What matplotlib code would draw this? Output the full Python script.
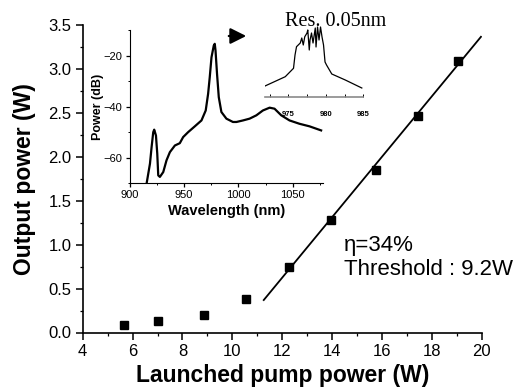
import matplotlib
matplotlib.use("Agg")
import matplotlib.pyplot as plt
from matplotlib.ticker import MultipleLocator

plt.rcParams['font.family'] = ['Liberation Sans', 'DejaVu Sans']

# ---- main data ----
pump_W = [5.67, 7.03, 8.86, 10.55, 12.26, 13.96, 15.76, 17.43, 19.05]
output_W = [0.085, 0.13, 0.20, 0.385, 0.75, 1.28, 1.85, 2.47, 3.09]
fit_x = [11.26, 19.97]
fit_y = [0.37, 3.37]

# ---- inset spectrum (dB) ----
wl_nm = [915.7, 918.8, 920.3, 921.8, 922.7, 924.3, 925.5, 926.4, 927.9, 931.0,
         934.0, 937.1, 941.7, 946.2, 949.3, 953.8, 960.0, 966.1, 970.0, 972.2,
         973.7, 975.3, 977.4, 978.3, 979.0, 980.4, 982.0, 984.4, 989.0, 995.0,
         998.2, 1004.2, 1010.3, 1016.5, 1022.5, 1028.7, 1033.2, 1039.4, 1047.0,
         1056.1, 1065.3, 1076.0]
power_dB = [-70.1, -62.3, -55.8, -50.0, -49.0, -51.3, -58.4, -66.9, -67.5, -65.6,
            -61.0, -57.8, -55.2, -54.3, -51.9, -50.0, -47.7, -45.4, -41.5, -35.0,
            -28.5, -20.7, -16.1, -15.4, -18.0, -27.2, -36.3, -42.1, -44.7, -46.0,
            -46.0, -45.4, -44.7, -43.4, -41.5, -40.4, -40.8, -43.4, -45.4,
            -46.7, -47.7, -49.3]

# ---- high-resolution sub-inset (arbitrary units) ----
hr_nm = [971.9, 974.6, 975.7, 975.9, 976.1, 976.6, 976.8, 977.0, 977.2, 977.5,
         977.6, 977.8, 977.9, 978.1, 978.3, 978.6, 978.7, 978.9, 979.1, 979.3,
         979.5, 979.7, 979.9, 980.1, 980.8, 982.6, 984.8]
hr_au = [10.7, 20.0, 28.4, 41.7, 50.0, 53.7, 58.7, 51.7, 60.0, 63.7,
         66.7, 46.7, 56.7, 63.7, 53.7, 68.7, 49.7, 69.7, 56.7, 69.7,
         59.7, 51.7, 34.7, 31.7, 22.7, 16.7, 8.7]

W, H = 524, 392
fig = plt.figure(figsize=(W / 100, H / 100), dpi=100)

def frac(x0, y0, x1, y1):
    return [x0 / W, 1 - y1 / H, (x1 - x0) / W, (y1 - y0) / H]

# main axes
ax = fig.add_axes(frac(82.7, 25.4, 481.7, 332.5))
ax.plot(pump_W, output_W, 's', color='black', ms=6.3)
ax.plot(fit_x, fit_y, '-', color='black', lw=1.3)
ax.set_xlim(4, 20)
ax.set_ylim(0, 3.5)
ax.xaxis.set_major_locator(MultipleLocator(2))
ax.xaxis.set_minor_locator(MultipleLocator(1))
ax.yaxis.set_major_locator(MultipleLocator(0.5))
ax.yaxis.set_minor_locator(MultipleLocator(0.25))
ax.yaxis.set_major_formatter(matplotlib.ticker.FormatStrFormatter('%.1f'))
for s in ['top', 'right']:
    ax.spines[s].set_visible(False)
for s in ['left', 'bottom']:
    ax.spines[s].set_linewidth(1.2)
ax.tick_params(which='major', direction='out', length=5, width=1.1, labelsize=12, pad=3)
ax.tick_params(which='minor', direction='out', length=2.5, width=0.9)
ax.set_xlabel('Launched pump power (W)', fontsize=16.5, fontweight='bold', labelpad=4)
ax.set_ylabel('Output power (W)', fontsize=16.5, fontweight='bold', labelpad=9)
ax.text(0.655, 0.245, 'η=34%\nThreshold : 9.2W', transform=ax.transAxes,
        fontsize=16, ha='left', va='center', linespacing=1.2)

# inset
ax2 = fig.add_axes(frac(129.5, 30, 323.3, 183.3))
ax2.plot(wl_nm, power_dB, '-', color='black', lw=1.6)
ax2.set_xlim(900, 1078)
ax2.set_ylim(-70, -10)
ax2.xaxis.set_major_locator(MultipleLocator(50))
ax2.xaxis.set_minor_locator(MultipleLocator(25))
ax2.yaxis.set_minor_locator(MultipleLocator(10))
ax2.set_yticks([-60, -40, -20])
for s in ['top', 'right']:
    ax2.spines[s].set_visible(False)
ax2.patch.set_alpha(0)
ax2.tick_params(which='major', direction='out', length=3, width=0.9, labelsize=8, pad=2)
ax2.tick_params(which='minor', direction='out', length=1.5, width=0.7)
ax2.set_xlabel('Wavelength (nm)', fontsize=10.5, fontweight='bold', labelpad=3)
ax2.set_ylabel('Power (dB)', fontsize=9, fontweight='bold', labelpad=0)

# high-resolution sub-inset
ax3 = fig.add_axes(frac(265, 24.7, 363.3, 96.7))
ax3.plot(hr_nm, hr_au, '-', color='black', lw=0.9)
ax3.set_xlim(971.9, 985)
ax3.set_ylim(0, 72)
ax3.set_xticks([975, 980, 985])
ax3.xaxis.set_minor_locator(MultipleLocator(2.5))
ax3.set_yticks([])
for s in ['top', 'right', 'left']:
    ax3.spines[s].set_visible(False)
ax3.spines['bottom'].set_color('#8a8a8a')
ax3.spines['bottom'].set_linewidth(1.2)
ax3.patch.set_alpha(0)
ax3.tick_params(which='both', direction='in', length=2, width=0.7, labelsize=5.5, pad=10)
for lab in ax3.get_xticklabels():
    lab.set_fontweight('bold')

# annotation text and arrow
fig.text(285 / W, 1 - 26 / H, 'Res. 0.05nm', fontsize=14.5,
         family=['Liberation Serif', 'DejaVu Serif'], ha='left', va='baseline')
fig.add_artist(matplotlib.patches.FancyArrowPatch(
    (226 / W, 1 - 36 / H), (249 / W, 1 - 36 / H), transform=fig.transFigure,
    arrowstyle='-|>', mutation_scale=24, lw=1.6, color='black'))

fig.savefig('out.png', dpi=100)
